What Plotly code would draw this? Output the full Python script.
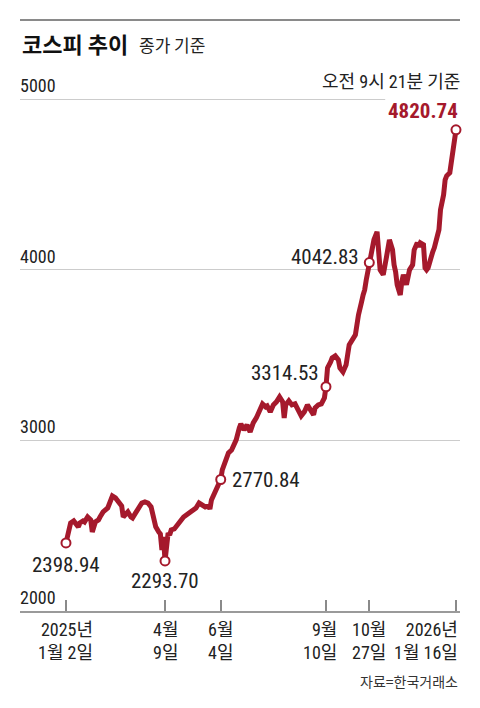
import plotly.graph_objects as go

# trading-day index (0 = 2025-01-02) and KOSPI close
day_idx = [0, 3, 5, 8, 9, 11, 12, 14, 16, 17, 19, 21, 22, 24, 27, 30, 32, 34, 36, 37, 38, 40, 42, 43, 45, 47, 49, 51, 53, 55,
           56, 58, 60, 61, 62, 63, 64, 65, 66, 67, 68, 70, 72, 74, 76, 78, 80, 82, 84, 86, 88, 90, 92, 93, 94, 96, 97, 98, 100,
           101, 102, 104, 105, 107, 109, 110, 112, 113, 115, 117, 119, 121, 123, 125, 127, 129, 130, 132, 134, 136, 138, 140,
           141, 142, 144, 146, 148, 150, 152, 154, 156, 158, 160, 161, 163, 165, 167, 168,
           169, 171, 172, 174, 176, 177, 179, 181, 182, 183, 185, 186, 187, 189, 190, 191, 192, 193, 194, 195, 196,
           198, 199, 201, 202, 203, 205, 206, 207, 209, 211, 212, 213, 214, 216, 217, 218, 220, 221, 222, 224, 225, 227, 228,
           229, 231, 232, 233, 234, 236, 237, 238, 240, 241, 242, 244, 245, 246, 248, 249, 250, 251, 252]
kospi = [2398.94, 2516, 2528, 2493, 2516, 2528, 2522, 2551, 2534, 2463, 2522, 2534, 2551, 2581, 2604, 2674, 2663, 2639, 2616,
         2551, 2563, 2581, 2551, 2545, 2575, 2604, 2633, 2639, 2633, 2610,
         2563, 2493, 2463, 2452, 2358, 2434, 2293.70, 2416, 2457, 2446, 2475, 2481, 2510, 2528, 2551, 2563, 2575, 2587, 2604,
         2633, 2622, 2610, 2616, 2598, 2651, 2686, 2710, 2727, 2770.84,
         2827, 2856, 2903, 2927, 2944, 2974, 3003, 3073, 3097, 3062, 3091, 3050, 3103, 3132, 3179, 3214, 3197, 3202, 3167,
         3208, 3226, 3255, 3226, 3132, 3208, 3232, 3208, 3214, 3179, 3144, 3167, 3208, 3179, 3150, 3191, 3208, 3214, 3249,
         3314.53,
         3425, 3460, 3484, 3496, 3472, 3425, 3402, 3443, 3501, 3560, 3589, 3607, 3619, 3736, 3795, 3812, 3853, 3882, 3940,
         3985, 4042.83,
         4100, 4176, 4223, 4117, 4000, 3971, 4012, 4070, 4176, 4117, 4029, 3988, 3912, 3853, 3930, 3971, 3912, 3971, 4000,
         4029, 4117, 4158, 4135, 4158, 4147, 4012, 4000, 4012, 4088, 4106, 4129, 4199, 4235, 4352, 4440, 4528, 4551, 4569,
         4645, 4704, 4774, 4820.74]

# highlighted points
mark_idx = [0, 64, 100, 168, 196, 252]
mark_val = [2398.94, 2293.70, 2770.84, 3314.53, 4042.83, 4820.74]
mark_txt = ["2398.94", "2293.70", "2770.84", "3314.53", "4042.83", "4820.74"]

# x-axis ticks
tick_idx = [0, 64, 100, 168, 196, 252]
tick_l1 = ["2025년", "4월", "6월", "9월", "10월", "2026년"]
tick_l2 = ["1월 2일", "9일", "4일", "10일", "27일", "1월 16일"]

y_ticks = [2000, 3000, 4000, 5000]

RED = "#a5192c"
NUM = "Roboto Condensed, DejaVu Sans Condensed, Liberation Sans Narrow, Noto Sans CJK KR, sans-serif"
KR = "Noto Sans CJK KR, sans-serif"

fig = go.Figure()
fig.add_trace(go.Scatter(x=day_idx, y=kospi, mode="lines",
                         line=dict(color=RED, width=5), cliponaxis=False, hoverinfo="skip"))
fig.add_trace(go.Scatter(x=mark_idx, y=mark_val, mode="markers", cliponaxis=False, hoverinfo="skip",
                         marker=dict(size=9, color="white", line=dict(color=RED, width=2))))

ann = []
# point labels: (xanchor, yanchor, xshift, yshift)
styles = [("center", "top", 0, -8), ("center", "top", 0, -6), ("left", "middle", 9, 0),
          ("right", "middle", -5, 14), ("right", "middle", -8, 6), ("right", "middle", 4, 19)]
for i, (xi, yv, t) in enumerate(zip(mark_idx, mark_val, mark_txt)):
    xa, ya, xs, ys = styles[i]
    last = i == len(mark_idx) - 1
    ann.append(dict(x=xi, y=yv, xref="x", yref="y", text=f"<b>{t}</b>" if last else t, showarrow=False,
                    xanchor=xa, yanchor=ya, xshift=xs, yshift=ys,
                    font=dict(family=NUM, size=21, color=RED if last else "#222")))

for xi, a, b, i in zip(tick_idx, tick_l1, tick_l2, range(len(tick_idx))):
    last = i == len(tick_idx) - 1
    ann.append(dict(x=xi, y=0, xref="x", yref="paper", text=f"{a}<br>{b}", showarrow=False,
                    xanchor="right" if last else "center", yanchor="top", align="right",
                    xshift=4 if last else (-6 if i == 3 else 0), yshift=-6,
                    font=dict(family=NUM, size=18, color="#222")))

for v in y_ticks:
    ann.append(dict(x=0, y=v, xref="paper", yref="y", text=str(v), showarrow=False,
                    xanchor="left", yanchor="bottom", yshift=1, xshift=-2,
                    font=dict(family=NUM, size=18, color="#222")))

ann.append(dict(x=0, y=1.088, xref="paper", yref="paper", xanchor="left", yanchor="middle", showarrow=False,
                text="<b>코스피 추이</b>", font=dict(family=KR, size=22, color="#111")))
ann.append(dict(x=0.265, y=1.086, xref="paper", yref="paper", xanchor="left", yanchor="middle", showarrow=False,
                text="종가 기준", font=dict(family=KR, size=17, color="#222")))
ann.append(dict(x=1, y=5000, xref="paper", yref="y", xanchor="right", yanchor="bottom", showarrow=False,
                yshift=5, xshift=2, text="오전 9시 21분 기준", font=dict(family=NUM, size=18, color="#222")))
ann.append(dict(x=1, y=-0.134, xref="paper", yref="paper", xanchor="right", yanchor="middle", showarrow=False,
                text="자료=한국거래소", font=dict(family=KR, size=14, color="#333")))

fig.update_layout(
    width=480, height=708,
    margin=dict(l=20, r=20, t=89, b=97),
    plot_bgcolor="white", paper_bgcolor="white",
    showlegend=False,
    hovermode=False,
    annotations=ann,
    shapes=[
        dict(type="line", xref="paper", yref="paper", x0=0, x1=1, y0=1.1322, y1=1.1322,
             line=dict(color="#8a8a8a", width=2)),
        dict(type="rect", xref="paper", yref="y", x0=0.83, x1=1.01, y0=4985, y1=5015,
             fillcolor="white", line=dict(width=0), layer="above"),
    ],
    xaxis=dict(range=[-29.7, 254.6], showgrid=False, zeroline=False, showline=True,
               linecolor="#9a9a9a", linewidth=1.5, ticks="inside", ticklen=11, tickwidth=1.5,
               tickcolor="#8a8a8a", tickvals=tick_idx, showticklabels=False, fixedrange=True),
    yaxis=dict(range=[2000, 5060], tickvals=y_ticks, showgrid=True, gridcolor="#cccccc", gridwidth=1,
               zeroline=False, showline=False, ticks="", showticklabels=False, fixedrange=True),
)

fig.write_html("out.html", config={"displayModeBar": False},
               post_script="document.body.style.margin='0';")
